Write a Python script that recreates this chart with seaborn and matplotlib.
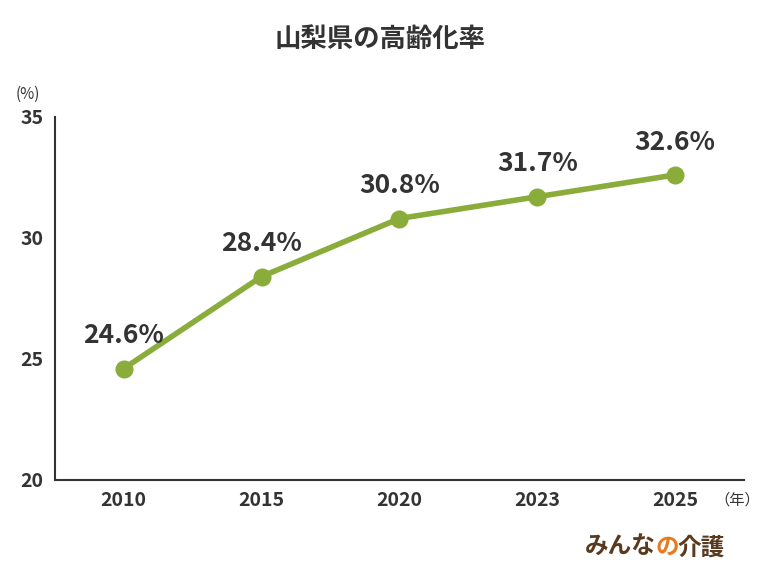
import matplotlib
matplotlib.use("Agg")
import matplotlib.pyplot as plt
import seaborn as sns
import pandas as pd

years = ["2010", "2015", "2020", "2023", "2025"]
rates = [24.6, 28.4, 30.8, 31.7, 32.6]
labels = ["24.6%", "28.4%", "30.8%", "31.7%", "32.6%"]
yticks = [20, 25, 30, 35]

sns.set_style("white")
plt.rcParams['font.family'] = ['Noto Sans CJK JP', 'DejaVu Sans']

df = pd.DataFrame({"year": years, "rate": rates})
fig = plt.figure(figsize=(7.6, 5.7), dpi=100)
ax = fig.add_axes([0.072, 0.158, 0.907, 0.637])
green = "#8aac3a"
sns.lineplot(data=df, x="year", y="rate", ax=ax, color=green, linewidth=4,
             marker="o", markersize=13, markeredgewidth=0, sort=False)
for i, (v, t) in enumerate(zip(rates, labels)):
    ax.text(i, v + 0.8, t, ha="center", va="bottom", fontsize=19, fontweight="bold", color="#333333")
ax.set_xlim(-0.5, 4.5)
ax.set_ylim(20, 35)
ax.set_yticks(yticks)
ax.set_xlabel(""); ax.set_ylabel("")
for s in ["top", "right"]:
    ax.spines[s].set_visible(False)
for s in ["left", "bottom"]:
    ax.spines[s].set_color("#333333"); ax.spines[s].set_linewidth(1.5)
ax.tick_params(axis="both", length=0, labelsize=14, colors="#333333", pad=8)
for lab in ax.get_xticklabels() + ax.get_yticklabels():
    lab.set_fontweight("bold")
fig.text(0.5, 0.93, "山梨県の高齢化率", ha="center", va="center", fontsize=19, fontweight="bold", color="#333333")
fig.text(0.02, 0.835, "(%)", ha="left", va="center", fontsize=11, color="#333333")
fig.text(0.94, 0.122, "（年）", ha="left", va="center", fontsize=11, color="#333333")
fig.text(0.77, 0.04, "みんな", ha="left", va="center", fontsize=17, fontweight="bold", color="#5a3a1e")
fig.text(0.862, 0.04, "の", ha="left", va="center", fontsize=17, fontweight="bold", color="#e87a1e")
fig.text(0.892, 0.04, "介護", ha="left", va="center", fontsize=17, fontweight="bold", color="#5a3a1e")
fig.savefig("out.png", dpi=100)
